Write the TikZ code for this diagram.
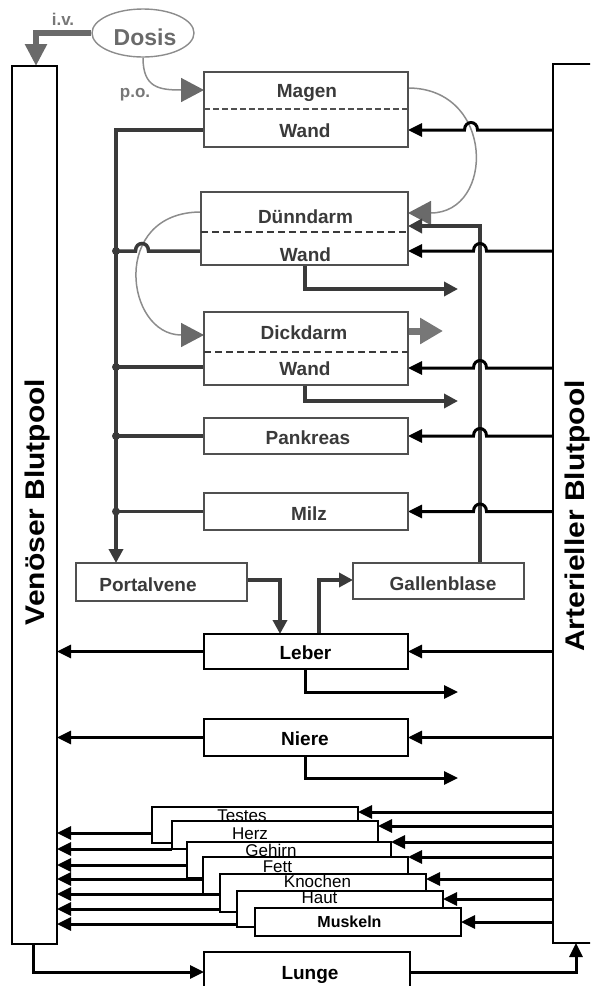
\documentclass[tikz,border=0pt]{standalone}
\usepackage{fontspec}
\setmainfont{Liberation Sans}
\usepackage{graphicx}
\usetikzlibrary{arrows.meta,shapes.geometric,backgrounds}
\definecolor{dk}{HTML}{3A3A3A}
\definecolor{bx}{HTML}{505050}
\definecolor{gr}{HTML}{6A6A6A}
\definecolor{lgr}{HTML}{8C8C8C}
\definecolor{mg}{HTML}{777777}
\newcommand{\fsz}[1]{\fontsize{#1}{#1}\selectfont}
\tikzset{
  box/.style={draw=bx, line width=1.5pt, fill=white, inner sep=0pt, outer sep=0pt},
  kbox/.style={box, draw=black},
  tbox/.style={draw=black, line width=1.1pt, fill=white, inner sep=0pt, outer sep=0pt},
  pool/.style={draw=black, line width=1.3pt, fill=white, inner sep=0pt, outer sep=0pt},
  lab/.style={font=\bfseries\fsz{19}, text=dk, anchor=base, inner sep=0pt},
  klab/.style={lab, text=black},
  tlab/.style={font=\fsz{17}, text=black, anchor=base, inner sep=0pt},
  poollab/.style={font=\bfseries\fsz{27}, text=black, rotate=90, anchor=base, inner sep=0pt},
  glab/.style={font=\bfseries\fsz{17}, text=mg, anchor=base, inner sep=0pt},
  divide/.style={draw=bx, line width=1.3pt, dash pattern=on 6pt off 3pt},
  divideb/.style={draw=dk, line width=2.2pt, dash pattern=on 7pt off 4pt},
  art/.style={draw=black, line width=3pt, -{Triangle[length=14pt,width=13pt]}},
  dkarr/.style={draw=dk, line width=3.5pt, -{Triangle[length=14pt,width=14pt]}},
  dkline/.style={draw=dk, line width=3.5pt},
  gcurve/.style={draw=lgr, line width=1.5pt, -{Triangle[length=23pt,width=24pt,color=gr]}},
  hopL/.style 2 args={insert path={-- ({#1+6.5},#2) .. controls ({#1+6.5},{#2-10}) and ({#1-6.5},{#2-10}) .. ({#1-6.5},#2)}},
  hopR/.style 2 args={insert path={-- ({#1-6.5},#2) .. controls ({#1-6.5},{#2-10}) and ({#1+6.5},{#2-10}) .. ({#1+6.5},#2)}},
  jdot/.style={circle, fill=dk, inner sep=0pt, minimum size=8pt},
}
\begin{document}
\begin{tikzpicture}[x=1pt,y=-1pt]
\useasboundingbox (0,0) rectangle (590,986);
\clip (0,0) rectangle (590,986);

% pools
\node[pool, minimum width=45pt, minimum height=878pt] (ven) at (34.5,505) {};
\node[pool, minimum width=50pt, minimum height=879pt] (arter) at (578,503.5) {};
\node[poollab] (ventxt) at (45,502) {\scalebox{1.11}[1]{Venöser Blutpool}};
\node[poollab] (arttxt) at (584,516) {\scalebox{1.11}[1]{Arterieller Blutpool}};

% dose
\node[ellipse, draw=lgr, line width=1.4pt, minimum width=102pt, minimum height=48pt, inner sep=0pt] (dosis) at (143,33) {};
\node[font=\bfseries\fsz{23}, text=gr, anchor=base, inner sep=0pt] (dosistxt) at (145,45) {Dosis};
\node[glab] (iv) at (63,25) {i.v.};
\node[glab] (po) at (135,97) {p.o.};

% organs
\node[box, minimum width=204pt, minimum height=75pt] (magen) at (306,109.5) {};
\node[box, minimum width=207pt, minimum height=73pt] (duenn) at (304.5,228.5) {};
\node[box, minimum width=204pt, minimum height=73pt] (dick) at (306,348.5) {};
\node[box, minimum width=204pt, minimum height=36pt] (pank) at (306,436) {};
\node[box, minimum width=204pt, minimum height=37pt] (milz) at (306,511.5) {};
\node[box, minimum width=171pt, minimum height=38pt] (portal) at (161.5,582) {};
\node[box, minimum width=171pt, minimum height=36pt] (galle) at (438.5,581) {};
\node[kbox, minimum width=204pt, minimum height=35pt] (leber) at (306,651.5) {};
\node[kbox, minimum width=204pt, minimum height=37pt] (niere) at (306,737.5) {};
\node[kbox, minimum width=206pt, minimum height=48pt] (lunge) at (307,976) {};

% tissues
\node[tbox, minimum width=206pt, minimum height=36pt] (testes) at (255,825) {};
\node[tbox, minimum width=206pt, minimum height=28pt] (herz) at (275,835) {};
\node[tbox, minimum width=204pt, minimum height=36pt] (gehirn) at (289,860) {};
\node[tbox, minimum width=205pt, minimum height=37pt] (fett) at (305.5,875.5) {};
\node[tbox, minimum width=206pt, minimum height=38pt] (knochen) at (323,893) {};
\node[tbox, minimum width=206pt, minimum height=36pt] (haut) at (340,909) {};
\node[tbox, minimum width=206pt, minimum height=28pt] (muskeln) at (358,922) {};

% dividers
\draw[divide] (magen.west |- 0,109) -- (magen.east |- 0,109);
\draw[divideb] (duenn.west |- 0,232) -- (duenn.east |- 0,232);
\draw[divideb] (dick.west |- 0,352) -- (dick.east |- 0,352);

\coordinate (ivc) at (36,33);
\coordinate (pc) at (116,130);
\coordinate (j1) at (116,251);
\coordinate (j2) at (116,367);
\coordinate (j3) at (116,436);
\coordinate (j4) at (116,511.5);
\coordinate (bt) at (480,226);
\coordinate (dickout) at (443,331);
\coordinate (d1) at (305,289);
\coordinate (d1e) at (458,289);
\coordinate (d2) at (305,401);
\coordinate (d2e) at (458,401);
\coordinate (d3) at (305,692);
\coordinate (d3e) at (458,692);
\coordinate (d4) at (305,778);
\coordinate (d4e) at (458,778);
\coordinate (pl) at (280,580);
\coordinate (lgc) at (319,580);
\coordinate (lu1) at (33,972);
\coordinate (lu2) at (576,972);

\begin{scope}[on background layer]
  % i.v. and p.o.
  \draw[draw=gr, line width=6pt, -{Triangle[length=22pt,width=21pt]}] (dosis.west) -- (ivc) -- (ivc |- ven.north);
  \draw[gcurve] (dosis.south) .. controls +(0,30) and +(-45,0) .. (magen.west |- 0,90);
  \draw[gcurve] (magen.east |- 0,88) .. controls (495,88) and (495,213) .. (duenn.east |- 0,213);
  \draw[gcurve] (duenn.west |- 0,212) .. controls (110,212) and (125,335) .. (dick.west |- 0,335);
  \draw[draw=mg, line width=7pt, -{Triangle[length=23pt,width=25pt]}] (dick.east |- dickout) -- (dickout);
  % portal collector
  \draw[dkarr] (magen.west |- pc) -- (pc) -- (pc |- portal.north);
  \draw[dkline] (j1) [hopR={142}{251}] -- (duenn.west |- j1);
  \draw[dkline] (j2) -- (dick.west |- j2);
  \draw[dkline] (j3) -- (pank.west |- j3);
  \draw[dkline] (j4) -- (milz.west |- j4);
  % bile
  \draw[dkarr] (galle.north -| bt) -- (bt) -- (duenn.east |- bt);
  % arterial supply
  \draw[art] (arter.west |- 0,130) [hopL={471}{130}] -- (magen.east |- 0,130);
  \draw[art] (arter.west |- 0,251) [hopL={480}{251}] -- (duenn.east |- 0,251);
  \draw[art] (arter.west |- 0,368) [hopL={480}{368}] -- (dick.east |- 0,368);
  \draw[art] (arter.west |- pank) [hopL={480}{436}] -- (pank.east);
  \draw[art] (arter.west |- milz) [hopL={480}{511.5}] -- (milz.east);
  \draw[art] (arter.west |- leber) -- (leber.east);
  \draw[art] (arter.west |- niere) -- (niere.east);
  \draw[art] (leber.west) -- (ven.east |- leber);
  \draw[art] (niere.west) -- (ven.east |- niere);
  % outflows
  \draw[dkarr] (duenn.south -| d1) -- (d1) -- (d1e);
  \draw[dkarr] (dick.south -| d2) -- (d2) -- (d2e);
  \draw[art] (leber.south -| d3) -- (d3) -- (d3e);
  \draw[art] (niere.south -| d4) -- (d4) -- (d4e);
  % liver
  \draw[dkarr] (portal.east |- pl) -- (pl) -- (pl |- leber.north);
  \draw[dkarr] (leber.north -| lgc) -- (lgc) -- (galle.west |- lgc);
  % lung
  \draw[art] (ven.south -| lu1) -- (lu1) -- (lunge.west |- lu1);
  \draw[art] (lunge.east |- lu2) -- (lu2) -- (lu2 |- arter.south);
  % tissues
  \draw[art] (testes.west |- 0,833) -- (ven.east |- 0,833);
  \draw[art] (herz.west |- 0,849) -- (ven.east |- 0,849);
  \draw[art] (gehirn.west |- 0,865) -- (ven.east |- 0,865);
  \draw[art] (fett.west |- 0,879) -- (ven.east |- 0,879);
  \draw[art] (knochen.west |- 0,894) -- (ven.east |- 0,894);
  \draw[art] (haut.west |- 0,909) -- (ven.east |- 0,909);
  \draw[art] (muskeln.west |- 0,924) -- (ven.east |- 0,924);
  \draw[art] (arter.west |- 0,812) -- (testes.east |- 0,812);
  \draw[art] (arter.west |- 0,826) -- (herz.east |- 0,826);
  \draw[art] (arter.west |- 0,842) -- (gehirn.east |- 0,842);
  \draw[art] (arter.west |- 0,857) -- (fett.east |- 0,857);
  \draw[art] (arter.west |- 0,879) -- (knochen.east |- 0,879);
  \draw[art] (arter.west |- 0,899) -- (haut.east |- 0,899);
  \draw[art] (arter.west |- 0,922) -- (muskeln.east |- 0,922);
\end{scope}

% junction dots
\node[jdot] (jd1) at (j1) {};
\node[jdot] (jd2) at (j2) {};
\node[jdot] (jd3) at (j3) {};
\node[jdot] (jd4) at (j4) {};

% labels
\node[lab] (lmagen) at (307,97) {Magen};
\node[lab] (lmw) at (305,137) {Wand};
\node[lab] (lduenn) at (305.5,223) {Dünndarm};
\node[lab] (ldw) at (305.5,261) {Wand};
\node[lab] (ldick) at (304,339.5) {Dickdarm};
\node[lab] (ldkw) at (305,375) {Wand};
\node[lab] (lpank) at (308,444) {Pankreas};
\node[lab] (lmilz) at (309,520) {Milz};
\node[lab] (lportal) at (148,591) {Portalvene};
\node[lab] (lgalle) at (443,590) {Gallenblase};
\node[klab] (lleber) at (305.5,659) {Leber};
\node[klab] (lniere) at (305,745) {Niere};
\node[klab] (llunge) at (310,979) {Lunge};
\node[tlab] (ltestes) at (242,821.5) {Testes};
\node[tlab] (lherz) at (250,839) {Herz};
\node[tlab] (lgehirn) at (271,856) {Gehirn};
\node[tlab] (lfett) at (277.5,872) {Fett};
\node[tlab] (lknochen) at (317.5,887) {Knochen};
\node[tlab] (lhaut) at (319.5,903) {Haut};
\node[tlab, font=\bfseries\fsz{16}] (lmuskeln) at (349.5,927) {Muskeln};
\end{tikzpicture}
\end{document}
